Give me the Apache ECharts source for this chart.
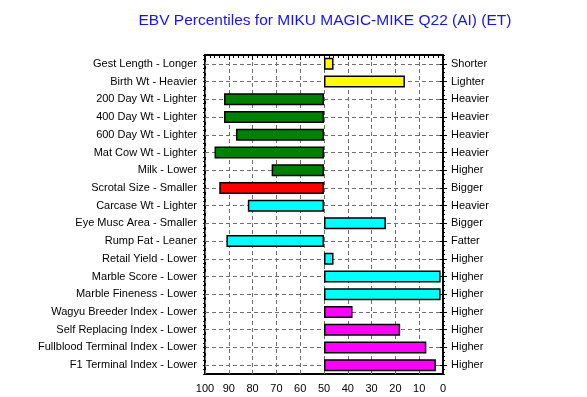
<!DOCTYPE html>
<html>
<head>
<meta charset="utf-8">
<script src="https://cdn.jsdelivr.net/npm/echarts@6/dist/echarts.min.js"></script>
<style>
  html, body { margin: 0; padding: 0; background: #fff; }
  #chart { width: 587px; height: 397px; }
</style>
</head>
<body>
<div id="chart"></div>
<script>
// trait names (left = low side, right = high side)
const leftLabels = [
  'Gest Length - Longer', 'Birth Wt - Heavier', '200 Day Wt - Lighter', '400 Day Wt - Lighter',
  '600 Day Wt - Lighter', 'Mat Cow Wt - Lighter', 'Milk - Lower', 'Scrotal Size - Smaller',
  'Carcase Wt - Lighter', 'Eye Musc Area - Smaller', 'Rump Fat - Leaner', 'Retail Yield - Lower',
  'Marble Score - Lower', 'Marble Fineness - Lower', 'Wagyu Breeder Index - Lower',
  'Self Replacing Index - Lower', 'Fullblood Terminal Index - Lower', 'F1 Terminal Index - Lower'
]
const rightLabels = [
  'Shorter', 'Lighter', 'Heavier', 'Heavier', 'Heavier', 'Heavier', 'Higher', 'Bigger',
  'Heavier', 'Bigger', 'Fatter', 'Higher', 'Higher', 'Higher', 'Higher', 'Higher', 'Higher', 'Higher'
]
// percentile per trait
const percentiles = [46, 16, 92, 92, 87, 96, 72, 94, 82, 24, 91, 46, 1, 1, 38, 18, 7, 3]
const xTicks = [0, 10, 20, 30, 40, 50, 60, 70, 80, 90, 100]
const midPoint = 50

// bar fill per trait group
const barColors = [
  '#ffff00', '#ffff00', '#008000', '#008000', '#008000', '#008000', '#008000', '#ff0000',
  '#00ffff', '#00ffff', '#00ffff', '#00ffff', '#00ffff', '#00ffff',
  '#ff00ff', '#ff00ff', '#ff00ff', '#ff00ff'
]

const font = 'Liberation Sans, Arial, sans-serif'

// bars go from 50 to the percentile: stack a hidden base under the visible part
const baseData = percentiles.map(v => Math.min(v, midPoint))
const barData = percentiles.map((v, i) => ({
  value: Math.abs(v - midPoint),
  itemStyle: {color: barColors[i]}
}))

const chartInstance = echarts.init(document.getElementById('chart'))

const option = {
  animation: false,
  title: {
    text: 'EBV Percentiles for MIKU MAGIC-MIKE Q22 (AI) (ET)',
    left: 320,
    top: 8,
    textAlign: 'center',
    textStyle: {color: '#1414f5', fontSize: 15.5, fontWeight: 'normal', fontFamily: font}
  },
  grid: {
    left: 205, right: 144, top: 55, bottom: 23,
    show: true, borderColor: '#000', borderWidth: 2
  },
  xAxis: {
    type: 'value',
    min: xTicks[0],
    max: xTicks[xTicks.length - 1],
    interval: 10,
    inverse: true,
    axisLine: {show: true, lineStyle: {color: '#000', width: 2}},
    axisTick: {show: true, length: 5, lineStyle: {color: '#000'}},
    minorTick: {show: true, splitNumber: 5, length: 3, lineStyle: {color: '#000'}},
    axisLabel: {fontSize: 11, color: '#000', fontFamily: font, margin: 9},
    splitLine: {show: true, lineStyle: {color: '#6e6e6e', type: [4, 3], width: 1}}
  },
  yAxis: [
    {
      type: 'category',
      data: leftLabels,
      inverse: true,
      position: 'left',
      axisLine: {show: true, lineStyle: {color: '#000', width: 2}},
      axisTick: {show: true, alignWithLabel: true, length: 4, lineStyle: {color: '#000'}},
      axisLabel: {fontSize: 11, color: '#000', fontFamily: font, margin: 8},
      splitLine: {show: false}
    },
    {
      type: 'category',
      data: rightLabels,
      inverse: true,
      position: 'right',
      axisLine: {show: true, lineStyle: {color: '#000', width: 2}},
      axisTick: {show: true, alignWithLabel: true, length: 4, lineStyle: {color: '#000'}},
      axisLabel: {fontSize: 11, color: '#000', fontFamily: font, margin: 8},
      splitLine: {show: false}
    },
    {
      // dashed row lines through the category centres
      type: 'category',
      data: leftLabels,
      inverse: true,
      position: 'left',
      axisLine: {show: false},
      axisLabel: {show: false},
      axisTick: {
        show: true, alignWithLabel: true, inside: true, length: 238,
        lineStyle: {color: '#6e6e6e', type: [4, 3], width: 1}
      },
      splitLine: {show: false}
    },
    {
      // small ticks along the left edge
      type: 'value', min: 0, max: 18, interval: 1, inverse: true, position: 'left',
      axisLine: {show: false}, axisLabel: {show: false}, splitLine: {show: false},
      axisTick: {show: true, length: 2, lineStyle: {color: '#000'}},
      minorTick: {show: true, splitNumber: 4, length: 2, lineStyle: {color: '#000'}}
    },
    {
      // small ticks along the right edge
      type: 'value', min: 0, max: 18, interval: 1, inverse: true, position: 'right',
      axisLine: {show: false}, axisLabel: {show: false}, splitLine: {show: false},
      axisTick: {show: true, length: 2, lineStyle: {color: '#000'}},
      minorTick: {show: true, splitNumber: 4, length: 2, lineStyle: {color: '#000'}}
    }
  ],
  series: [
    {
      type: 'bar',
      stack: 'ebv',
      yAxisIndex: 0,
      barWidth: 12,
      silent: true,
      itemStyle: {color: 'transparent', borderWidth: 0},
      data: baseData
    },
    {
      type: 'bar',
      stack: 'ebv',
      yAxisIndex: 0,
      barWidth: 12,
      itemStyle: {borderColor: '#000', borderWidth: 1.5},
      data: barData
    }
  ]
}

chartInstance.setOption(option)
</script>
</body>
</html>
